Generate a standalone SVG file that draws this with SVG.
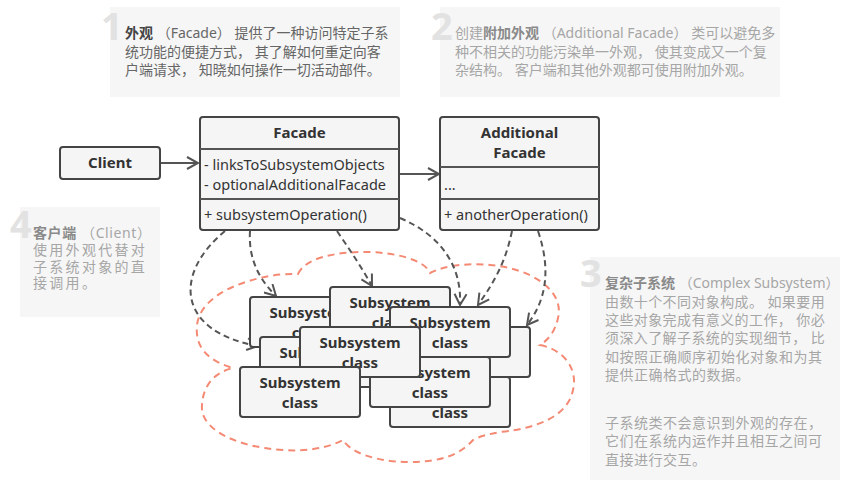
<svg xmlns="http://www.w3.org/2000/svg" width="844" height="494" viewBox="0 0 844 494">
<defs>
<style>
.note{fill:#f6f6f6;}
.num{font-family:"Open Sans","Liberation Sans",sans-serif;font-weight:bold;font-size:38px;fill:#e2e2e2;}
.nt{font-family:"Noto Sans","Noto Sans CJK SC",sans-serif;font-size:14px;fill:#a6a6a6;}
.nt .b{font-weight:bold;fill:#8a8a8a;}
.nt.hi{fill:#666;}
.nt.hi .b{fill:#444;}
.box{fill:#f5f5f5;stroke:#444;stroke-width:2;}
.t{font-family:"Noto Sans","Liberation Sans",sans-serif;font-size:14.5px;fill:#333;}
.tb{font-family:"Noto Sans","Liberation Sans",sans-serif;font-size:15px;font-weight:bold;fill:#333;text-anchor:middle;}
.ln{fill:none;stroke:#555;stroke-width:2;}
.dl{fill:none;stroke:#555;stroke-width:2;stroke-dasharray:6,4;}
.cloud{fill:none;stroke:#f48a74;stroke-width:2;stroke-dasharray:7,5;}
</style>
<marker id="ah" viewBox="0 0 14 14" refX="12" refY="7" markerWidth="14" markerHeight="14" markerUnits="userSpaceOnUse" orient="auto">
<path d="M1,1 L12,7 L1,13" fill="none" stroke="#555" stroke-width="2"/>
</marker>
</defs>
<rect width="844" height="494" fill="#ffffff"/>

<g id="note1">
<rect class="note" x="110" y="7" width="290" height="90"/>
<text class="num" x="101" y="40">1</text>
<text class="nt hi" x="125" y="38"><tspan class="b">外观</tspan> （Facade） 提供了一种访问特定子系</text>
<text class="nt hi" x="125" y="57">统功能的便捷方式， 其了解如何重定向客</text>
<text class="nt hi" x="125" y="75">户端请求， 知晓如何操作一切活动部件。</text>
</g>

<g id="note2">
<rect class="note" x="440" y="7" width="340" height="90"/>
<text class="num" x="431" y="40">2</text>
<text class="nt" x="455" y="38">创建<tspan class="b">附加外观</tspan> （Additional Facade） 类可以避免多</text>
<text class="nt" x="455" y="57">种不相关的功能污染单一外观， 使其变成又一个复</text>
<text class="nt" x="455" y="75">杂结构。 客户端和其他外观都可使用附加外观。</text>
</g>

<g id="note4">
<rect class="note" x="20" y="207" width="140" height="110"/>
<text class="num" x="10" y="238">4</text>
<text class="nt" x="33" y="238" letter-spacing="0.6"><tspan class="b">客户端</tspan> （Client）</text>
<text class="nt" x="33" y="255" letter-spacing="2.3">使用外观代替对</text>
<text class="nt" x="33" y="272" letter-spacing="2.3">子系统对象的直</text>
<text class="nt" x="33" y="288" letter-spacing="2.3">接调用。</text>
</g>

<g id="note3">
<rect class="note" x="590" y="257" width="250" height="223"/>
<text class="num" x="580" y="287">3</text>
<text class="nt" x="605" y="288"><tspan class="b">复杂子系统</tspan> （Complex Subsystem）</text>
<text class="nt" x="605" y="307" letter-spacing="0.4">由数十个不同对象构成。 如果要用</text>
<text class="nt" x="605" y="325" letter-spacing="0.4">这些对象完成有意义的工作， 你必</text>
<text class="nt" x="605" y="343" letter-spacing="0.4">须深入了解子系统的实现细节， 比</text>
<text class="nt" x="605" y="362" letter-spacing="0.5">如按照正确顺序初始化对象和为其</text>
<text class="nt" x="605" y="380" letter-spacing="0.5">提供正确格式的数据。</text>
<text class="nt" x="605" y="428" letter-spacing="0.5">子系统类不会意识到外观的存在，</text>
<text class="nt" x="605" y="446" letter-spacing="0.5">它们在系统内运作并且相互之间可</text>
<text class="nt" x="605" y="465" letter-spacing="0.5">直接进行交互。</text>
</g>

<g id="cloud">
<path class="cloud" d="M298,274 C305,258 335,252 365,252 C395,252 425,260 430,273 C445,265 470,263 490,265 C530,268 565,290 558,318 C555,332 548,340 540,345 C565,350 578,370 573,390 C568,415 540,428 500,432 C490,434 480,436 473,440 C460,455 440,462 410,462 C375,462 350,452 343,440 C320,452 290,452 265,448 C225,442 200,425 202,405 C203,385 215,372 233,368 C205,360 195,345 197,325 C200,300 230,285 260,278 C275,274 290,274 298,274 Z"/>
</g>

<g id="connectors">
<line class="ln" x1="160" y1="163" x2="198" y2="163" marker-end="url(#ah)"/>
<line class="ln" x1="400" y1="174" x2="439" y2="174" marker-end="url(#ah)"/>
<path class="dl" d="M225,231 C172,275 178,332 258,346" marker-end="url(#ah)"/>
<path class="dl" d="M250,231 C248,262 262,282 276,296" marker-end="url(#ah)"/>
<path class="dl" d="M337,231 C350,250 362,268 372,286" marker-end="url(#ah)"/>
<path class="dl" d="M400,218 C440,235 462,265 460,305" marker-end="url(#ah)"/>
<path class="dl" d="M512,231 C505,265 492,285 478,305" marker-end="url(#ah)"/>
<path class="dl" d="M538,231 C552,272 545,302 527,325" marker-end="url(#ah)"/>
</g>

<g id="client">
<rect class="box" x="60" y="147" width="100" height="32" rx="3"/>
<text class="tb" x="110" y="168">Client</text>
</g>

<g id="facade">
<rect class="box" x="200" y="117" width="199" height="113" rx="3"/>
<line class="ln" x1="200" y1="149" x2="399" y2="149"/>
<line class="ln" x1="200" y1="199" x2="399" y2="199"/>
<text class="tb" x="299.5" y="138">Facade</text>
<text class="t" x="204" y="170">- linksToSubsystemObjects</text>
<text class="t" x="204" y="190">- optionalAdditionalFacade</text>
<text class="t" x="204" y="220">+ subsystemOperation()</text>
</g>

<g id="additional-facade">
<rect class="box" x="440" y="117" width="159" height="113" rx="3"/>
<line class="ln" x1="440" y1="167" x2="599" y2="167"/>
<line class="ln" x1="440" y1="199" x2="599" y2="199"/>
<text class="tb" x="519.5" y="138">Additional</text>
<text class="tb" x="519.5" y="158">Facade</text>
<text class="t" x="444" y="190">...</text>
<text class="t" x="444" y="220">+ anotherOperation()</text>
</g>

<g id="subsystem-a">
<rect class="box" x="250" y="297" width="120" height="50" rx="3"/>
<text class="tb" x="310" y="318">Subsystem</text>
<text class="tb" x="310" y="338">class</text>
</g>
<g id="subsystem-b">
<rect class="box" x="330" y="287" width="120" height="50" rx="3"/>
<text class="tb" x="390" y="308">Subsystem</text>
<text class="tb" x="390" y="328">class</text>
</g>
<g id="subsystem-e">
<rect class="box" x="260" y="337" width="120" height="50" rx="3"/>
<text class="tb" x="320" y="358">Subsystem</text>
<text class="tb" x="320" y="378">class</text>
</g>
<g id="subsystem-d">
<rect class="box" x="410" y="327" width="120" height="50" rx="3"/>
<text class="tb" x="470" y="348">Subsystem</text>
<text class="tb" x="470" y="368">class</text>
</g>
<g id="subsystem-i">
<rect class="box" x="390" y="377" width="120" height="50" rx="3"/>
<text class="tb" x="450" y="398">Subsystem</text>
<text class="tb" x="450" y="418">class</text>
</g>
<g id="subsystem-h">
<rect class="box" x="370" y="357" width="120" height="50" rx="3"/>
<text class="tb" x="430" y="378">Subsystem</text>
<text class="tb" x="430" y="398">class</text>
</g>
<g id="subsystem-c">
<rect class="box" x="390" y="307" width="120" height="50" rx="3"/>
<text class="tb" x="450" y="328">Subsystem</text>
<text class="tb" x="450" y="348">class</text>
</g>
<g id="subsystem-f">
<rect class="box" x="300" y="327" width="120" height="50" rx="3"/>
<text class="tb" x="360" y="348">Subsystem</text>
<text class="tb" x="360" y="368">class</text>
</g>
<g id="subsystem-g">
<rect class="box" x="240" y="367" width="120" height="50" rx="3"/>
<text class="tb" x="300" y="388">Subsystem</text>
<text class="tb" x="300" y="408">class</text>
</g>
</svg>
